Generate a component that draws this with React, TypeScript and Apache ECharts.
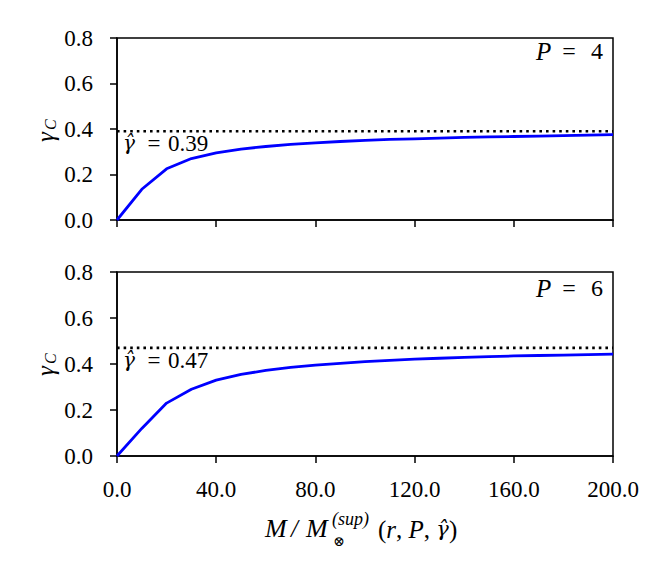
import React, { useEffect, useRef } from "react";
import * as echarts from "echarts";

const xValues = [0, 10, 20, 30, 40, 50, 60, 70, 80, 90, 100, 110, 120, 130, 140, 150, 160, 170, 180, 190, 200];
const topGamma = [0, 0.135, 0.225, 0.27, 0.295, 0.312, 0.323, 0.332, 0.339, 0.345, 0.35, 0.354, 0.357, 0.36, 0.363, 0.365, 0.367, 0.369, 0.371, 0.373, 0.375];
const bottomGamma = [0, 0.12, 0.23, 0.29, 0.33, 0.355, 0.372, 0.385, 0.395, 0.403, 0.41, 0.416, 0.421, 0.425, 0.429, 0.432, 0.435, 0.437, 0.439, 0.441, 0.443];
const topGammaHat = 0.39;
const bottomGammaHat = 0.47;
const topP = 4;
const bottomP = 6;
const xMin = 0;
const xMax = 200;
const xInterval = 40;
const yMin = 0;
const yMax = 0.8;
const yInterval = 0.2;

const FONT = "Liberation Serif";
const HATFONT = "DejaVu Serif";

export default function App() {
  const ref = useRef<HTMLDivElement>(null);
  useEffect(() => {
    if (!ref.current) return;
    const chart = echarts.init(ref.current, undefined, { renderer: "svg" });
    const grids = [
      { left: 117, top: 38, width: 496, height: 182 },
      { left: 117, top: 272, width: 496, height: 184 },
    ];
    const axisLine = { show: true, lineStyle: { color: "#000", width: 1.5 } };
    const axisTick = { show: true, inside: false, length: 7, lineStyle: { color: "#000", width: 1.5 } };
    const xAxes = [0, 1].map((i) => ({
      type: "value",
      gridIndex: i,
      min: xMin,
      max: xMax,
      interval: xInterval,
      axisLine,
      axisTick,
      splitLine: { show: false },
      axisLabel: {
        show: i === 1,
        color: "#000",
        fontFamily: FONT,
        fontSize: 23,
        margin: 22,
        formatter: (v: number) => v.toFixed(1),
      },
    }));
    const yAxes = [0, 1].map((i) => ({
      type: "value",
      gridIndex: i,
      min: yMin,
      max: yMax,
      interval: yInterval,
      axisLine,
      axisTick,
      splitLine: { show: false },
      axisLabel: {
        color: "#000",
        fontFamily: FONT,
        fontSize: 23,
        margin: 24,
        formatter: (v: number) => v.toFixed(1),
      },
    }));
    const curve = (vals: number[]) => xValues.map((x, i) => [x, vals[i]]);
    const hat = (v: number) => [[xMin, v], [xMax, v]];
    const series: any[] = [
      { type: "line", xAxisIndex: 0, yAxisIndex: 0, data: hat(topGammaHat), symbol: "none", lineStyle: { color: "#000", width: 2.6, type: [2.6, 4] } },
      { type: "line", xAxisIndex: 0, yAxisIndex: 0, data: curve(topGamma), symbol: "none", lineStyle: { color: "#0000ff", width: 2.8 } },
      { type: "line", xAxisIndex: 1, yAxisIndex: 1, data: hat(bottomGammaHat), symbol: "none", lineStyle: { color: "#000", width: 2.6, type: [2.6, 4] } },
      { type: "line", xAxisIndex: 1, yAxisIndex: 1, data: curve(bottomGamma), symbol: "none", lineStyle: { color: "#0000ff", width: 2.8 } },
    ];
    const txt = (x: number, y: number, text: string, font: string, align = "left") => ({
      type: "text",
      x,
      y,
      style: { text, font, fill: "#000", textAlign: align, textVerticalAlign: "middle" },
    });
    const ylabel = (cy: number) => ({
      type: "group",
      x: 45,
      y: cy,
      rotation: Math.PI / 2,
      children: [
        txt(-12, 0, "γ", `italic 25px ${FONT}`),
        txt(0, 5, "C", `italic 16px ${FONT}`),
      ],
    });
    const hatLabel = (y: number, v: number) => [
      txt(123, y, "γ̂", `italic 20px ${HATFONT}`),
      txt(154, y, "=", `23px ${FONT}`, "center"),
      txt(168, y, v.toFixed(2), `23px ${FONT}`),
    ];
    const pLabel = (y: number, p: number) => [
      txt(536, y, "P", `italic 25px ${FONT}`),
      txt(569, y, "=", `24px ${FONT}`, "center"),
      txt(591, y, String(p), `24px ${FONT}`),
    ];
    chart.setOption({
      animation: false,
      backgroundColor: "#fff",
      grid: grids.map((g) => ({ ...g, show: true, borderColor: "#000", borderWidth: 1.5, backgroundColor: "transparent" })),
      xAxis: xAxes,
      yAxis: yAxes,
      series,
      graphic: [
        ylabel(130),
        ylabel(364),
        ...hatLabel(143, topGammaHat),
        ...hatLabel(360, bottomGammaHat),
        ...pLabel(51, topP),
        ...pLabel(288, bottomP),
        txt(265, 528, "M", `italic 26px ${FONT}`),
        txt(291, 528, "/", `italic 25px ${FONT}`),
        txt(306, 528, "M", `italic 26px ${FONT}`),
        txt(332, 519, "(sup)", `italic 18px ${FONT}`),
        txt(333, 541, "⊗", `14px ${HATFONT}`),
        {
          type: "text",
          x: 378,
          y: 529,
          style: {
            text: "{n|(}{i|r}{n|, }{i|P}{n|, }{g|γ̂}{n|)}",
            textVerticalAlign: "middle",
            rich: {
              n: { fontFamily: FONT, fontSize: 25, fill: "#000" },
              i: { fontFamily: FONT, fontStyle: "italic", fontSize: 25, fill: "#000" },
              g: { fontFamily: HATFONT, fontStyle: "italic", fontSize: 21, fill: "#000" },
            },
          },
        },
      ],
    });
    return () => chart.dispose();
  }, []);
  return <div ref={ref} style={{ position: "fixed", left: 0, top: 0, width: 670, height: 575 }} />;
}
